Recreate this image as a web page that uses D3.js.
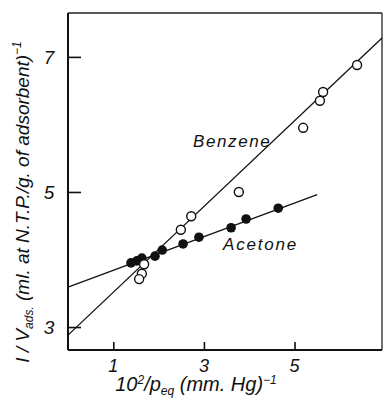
<!DOCTYPE html>
<html>
<head>
<meta charset="utf-8">
<script src="https://cdn.jsdelivr.net/npm/d3@7"></script>
<style>
  html, body { margin: 0; padding: 0; background: #fff; overflow: hidden; }
  svg { display: block; }
  svg text { font-family: "Liberation Sans", "DejaVu Sans", sans-serif; fill: #111; }
</style>
</head>
<body>
<div id="chart"></div>
<script>
const benzeneX = [6.38, 5.63, 5.56, 5.19, 3.77, 2.72, 2.49, 1.68, 1.63, 1.57];
const benzeneY = [6.88, 6.48, 6.35, 5.95, 5.00, 4.64, 4.44, 3.93, 3.79, 3.71];
const acetoneX = [4.64, 3.93, 3.60, 2.89, 2.54, 2.08, 1.92, 1.63, 1.52, 1.39];
const acetoneY = [4.76, 4.60, 4.47, 4.33, 4.23, 4.14, 4.05, 4.02, 3.98, 3.95];
// fitted straight lines, as end points [x, y]
const benzeneFit = [[0, 2.88], [6.93, 7.28]];
const acetoneFit = [[0, 3.59], [5.5, 4.96]];
const xTicks = [1, 3, 5];
const yTicks = [3, 5, 7];

const width = 384, height = 407;
const margin = { left: 68, right: 2, top: 13, bottom: 57 };
const innerWidth = width - margin.left - margin.right;
const innerHeight = height - margin.top - margin.bottom;

const svg = d3.select("#chart").append("svg")
  .attr("width", width)
  .attr("height", height);

const g = svg.append("g")
  .attr("transform", `translate(${margin.left},${margin.top})`);

const x = d3.scaleLinear().domain([0, 6.93]).range([0, innerWidth]);
const y = d3.scaleLinear().domain([2.66, 7.65]).range([innerHeight, 0]);

// frame (top / right thin)
g.append("line").attr("x1", 0).attr("x2", innerWidth).attr("y1", 0).attr("y2", 0)
  .attr("stroke", "#222").attr("stroke-width", 1.3);
g.append("line").attr("x1", innerWidth).attr("x2", innerWidth).attr("y1", 0).attr("y2", innerHeight)
  .attr("stroke", "#222").attr("stroke-width", 1.3);

// axes with inward ticks
const xAxis = d3.axisTop(x).tickValues(xTicks).tickSize(8);
g.append("g").attr("class", "x-axis")
  .attr("transform", `translate(0,${innerHeight})`)
  .call(xAxis);
const yAxis = d3.axisRight(y).tickValues(yTicks).tickSize(13);
g.append("g").attr("class", "y-axis").call(yAxis);
g.selectAll(".x-axis .domain, .y-axis .domain, .tick text").remove();
g.selectAll(".tick line").attr("stroke", "#111").attr("stroke-width", 1.6);

g.append("line").attr("x1", 0).attr("x2", innerWidth).attr("y1", innerHeight).attr("y2", innerHeight)
  .attr("stroke", "#111").attr("stroke-width", 2);
g.append("line").attr("x1", 0).attr("x2", 0).attr("y1", 0).attr("y2", innerHeight)
  .attr("stroke", "#111").attr("stroke-width", 2);

// tick labels
g.selectAll(".xlab").data(xTicks).join("text")
  .attr("class", "xlab")
  .attr("x", d => x(d))
  .attr("y", innerHeight + 22)
  .attr("text-anchor", "middle")
  .attr("font-size", 18)
  .attr("font-style", "italic")
  .text(d => d);
g.selectAll(".ylab").data(yTicks).join("text")
  .attr("class", "ylab")
  .attr("x", -19)
  .attr("y", d => y(d) + 7)
  .attr("text-anchor", "middle")
  .attr("font-size", 19)
  .attr("font-style", "italic")
  .text(d => d);

// fit lines
const line = d3.line().x(d => x(d[0])).y(d => y(d[1]));
g.append("path").datum(benzeneFit).attr("d", line)
  .attr("fill", "none").attr("stroke", "#111").attr("stroke-width", 1.3);
g.append("path").datum(acetoneFit).attr("d", line)
  .attr("fill", "none").attr("stroke", "#111").attr("stroke-width", 1.3);

// points
g.selectAll(".acetone").data(acetoneX).join("circle")
  .attr("class", "acetone")
  .attr("cx", d => x(d))
  .attr("cy", (d, i) => y(acetoneY[i]))
  .attr("r", 4.8)
  .attr("fill", "#111");
g.selectAll(".benzene").data(benzeneX).join("circle")
  .attr("class", "benzene")
  .attr("cx", d => x(d))
  .attr("cy", (d, i) => y(benzeneY[i]))
  .attr("r", 4.5)
  .attr("fill", "#fff")
  .attr("stroke", "#111")
  .attr("stroke-width", 1.4);

// series labels
g.append("text").attr("x", 193 - margin.left).attr("y", 147 - margin.top)
  .attr("font-size", 17).attr("font-style", "italic").attr("letter-spacing", 1.6)
  .text("Benzene");
g.append("text").attr("x", 223 - margin.left).attr("y", 250 - margin.top)
  .attr("font-size", 17).attr("font-style", "italic").attr("letter-spacing", 1.8)
  .text("Acetone");

// axis titles
const xt = svg.append("text")
  .attr("x", 196).attr("y", 391)
  .attr("text-anchor", "middle")
  .attr("font-size", 20)
  .attr("font-style", "italic");
xt.append("tspan").text("10");
xt.append("tspan").attr("font-size", 12).attr("dy", -7).text("2");
xt.append("tspan").attr("dy", 7).text("/p");
xt.append("tspan").attr("font-size", 12).attr("dy", 4).text("eq");
xt.append("tspan").attr("dy", -4).text(" (mm. Hg)");
xt.append("tspan").attr("font-size", 12).attr("dy", -7).text("−1");

const yt = svg.append("text")
  .attr("transform", "translate(29,202) rotate(-90)")
  .attr("text-anchor", "middle")
  .attr("font-size", 19)
  .attr("font-style", "italic");
yt.append("tspan").text("I / V");
yt.append("tspan").attr("font-size", 12).attr("dy", 4).text("ads.");
yt.append("tspan").attr("dy", -4).text(" (ml. at N.T.P./g. of adsorbent)");
yt.append("tspan").attr("font-size", 12).attr("dy", -8).text("−1");
</script>
</body>
</html>
